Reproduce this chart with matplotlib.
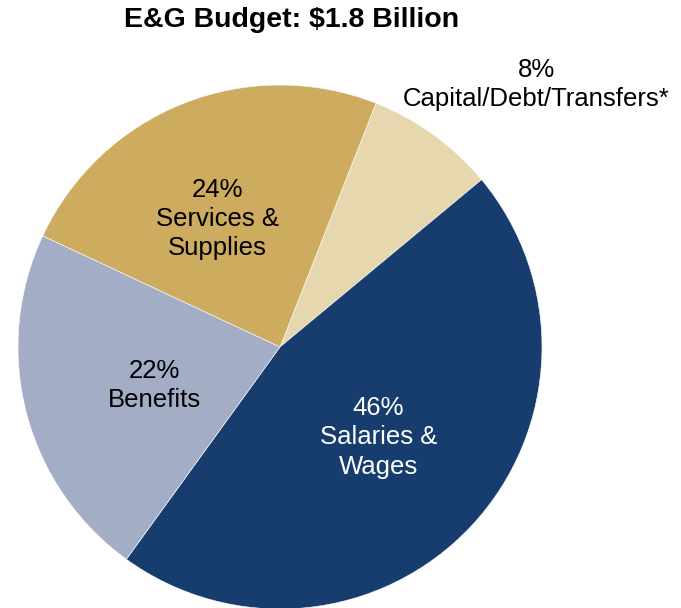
import numpy as np
import matplotlib
matplotlib.use("Agg")
import matplotlib.pyplot as plt

plt.rcParams["font.family"] = ["Liberation Sans", "DejaVu Sans"]

# data, clockwise from the top-right slice
categories = ["Capital/Debt/Transfers*", "Salaries &\nWages", "Benefits", "Services &\nSupplies"]
shares = [8, 46, 22, 24]
colors = ["#E6D7AF", "#163D6E", "#A3ADC6", "#CDAC5F"]
text_colors = ["black", "white", "black", "black"]

# label placement (radial distance from centre, angle offset in degrees)
label_dist = [1.40, 0.51, 0.50, 0.545]
label_shift = [-8.4, 0.5, 2.7, 4.3]

W, H = 681, 608
fig = plt.figure(figsize=(W / 100, H / 100), dpi=100)

cx, cy, r = 280, 347, 262
ax = fig.add_axes([(cx - r) / W, (H - cy - r) / H, 2 * r / W, 2 * r / H])
wedges, _ = ax.pie(shares, colors=colors, startangle=68.5, counterclock=False,
                   radius=1, wedgeprops=dict(edgecolor="white", linewidth=0.4))
ax.set_xlim(-1, 1)
ax.set_ylim(-1, 1)
ax.set_aspect("equal")
ax.axis("off")

for w, cat, pct, tc, d, sh in zip(wedges, categories, shares, text_colors,
                                  label_dist, label_shift):
    mid = np.deg2rad((w.theta1 + w.theta2) / 2 + sh)
    ax.text(d * np.cos(mid), d * np.sin(mid), f"{pct}%\n{cat}", ha="center", va="center",
            fontsize=18.5, color=tc, linespacing=1.27, clip_on=False)

fig.text(292 / W, 1 - 20 / H, "E&G Budget: $1.8 Billion", ha="center", va="center",
         fontsize=20.5, fontweight="bold")

fig.savefig("out.png", dpi=100)
